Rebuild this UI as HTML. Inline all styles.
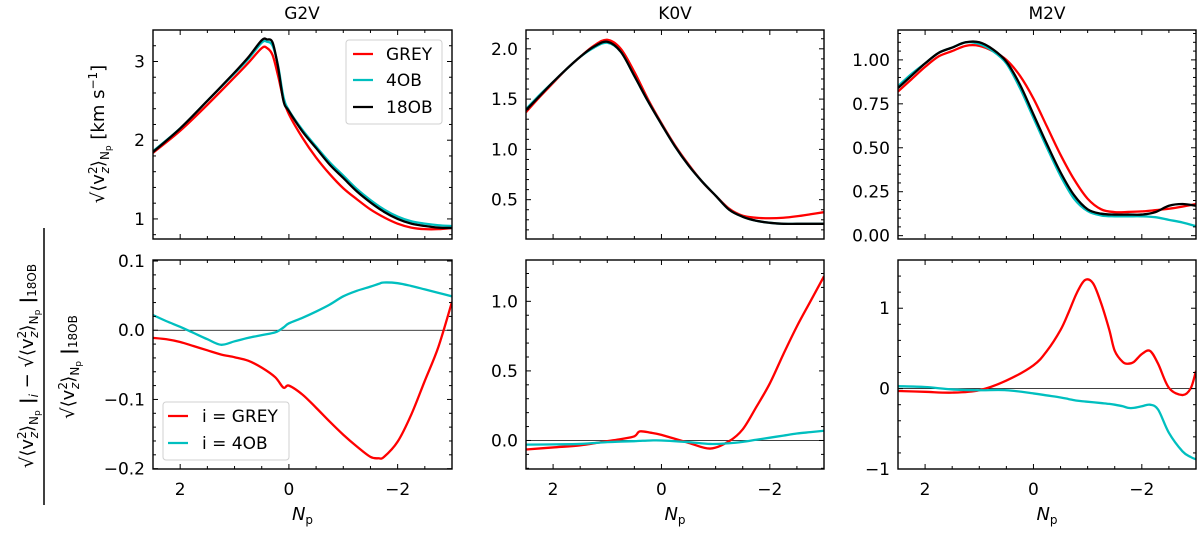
<!DOCTYPE html>
<html><head><meta charset="utf-8"><style>
html,body{margin:0;padding:0;background:#fff}
svg text{font-family:"DejaVu Sans","Liberation Sans",sans-serif;fill:#000}
</style></head><body>
<svg id="fig" width="1200" height="528" viewBox="0 0 1200 528">
<g id="labels">
<text x="302" y="19" font-size="17" text-anchor="middle">G2V</text>
<text x="675" y="19" font-size="17" text-anchor="middle">K0V</text>
<text x="1047" y="19" font-size="17" text-anchor="middle">M2V</text>
<g transform="translate(104,134) rotate(-90)">
<text x="0" y="0" font-size="18" text-anchor="middle">√⟨v<tspan font-size="12" dy="-7">2</tspan><tspan font-size="12" dx="-7" dy="12" font-style="italic">z</tspan><tspan dy="-5">⟩</tspan><tspan font-size="12" dy="5">N</tspan><tspan font-size="9" dy="2">p</tspan><tspan dy="-7"> [km s</tspan><tspan font-size="12" dy="-7">−1</tspan><tspan dy="7">]</tspan></text>
</g>
<g transform="translate(33,366) rotate(-90)">
<text x="0" y="0" font-size="18" text-anchor="middle">√⟨v<tspan font-size="12" dy="-7">2</tspan><tspan font-size="12" dx="-7" dy="12" font-style="italic">z</tspan><tspan dy="-5">⟩</tspan><tspan font-size="12" dy="5">N</tspan><tspan font-size="9" dy="2">p</tspan><tspan dy="-7" font-weight="bold"> |</tspan><tspan font-size="12" font-style="italic" dy="5">i</tspan><tspan dy="-5"> − √⟨v</tspan><tspan font-size="12" dy="-7">2</tspan><tspan font-size="12" dx="-7" dy="12" font-style="italic">z</tspan><tspan dy="-5">⟩</tspan><tspan font-size="12" dy="5">N</tspan><tspan font-size="9" dy="2">p</tspan><tspan dy="-7" font-weight="bold"> |</tspan><tspan font-size="12" dy="3">18OB</tspan></text>
</g>
<line x1="44" y1="228" x2="44" y2="505" stroke="#000" stroke-width="1.5"/>
<g transform="translate(74,367) rotate(-90)">
<text x="0" y="0" font-size="18" text-anchor="middle">√⟨v<tspan font-size="12" dy="-7">2</tspan><tspan font-size="12" dx="-7" dy="12" font-style="italic">z</tspan><tspan dy="-5">⟩</tspan><tspan font-size="12" dy="5">N</tspan><tspan font-size="9" dy="2">p</tspan><tspan dy="-7" font-weight="bold"> |</tspan><tspan font-size="12" dy="3">18OB</tspan></text>
</g>
</g>
</svg>
<script>
// ---- data ----
const xTickLabels=["2","0","−2"];
const xTickVals=[2,0,-2];
// G2V top
const g2vTopX=[2.5,2,1.5,1,0.75,0.5,0.4,0.3,0.2,0.1,0,-0.25,-0.5,-0.75,-1,-1.25,-1.5,-1.75,-2,-2.25,-2.5,-2.75,-3];
const g2vTopGrey=[1.84,2.12,2.45,2.8,2.98,3.17,3.17,3.08,2.82,2.52,2.33,2.03,1.78,1.57,1.39,1.25,1.12,1.02,0.94,0.89,0.87,0.87,0.885];
const g2vTop4OB=[1.86,2.15,2.5,2.85,3.03,3.24,3.25,3.2,2.95,2.55,2.38,2.13,1.92,1.72,1.55,1.38,1.24,1.12,1.03,0.97,0.94,0.92,0.91];
const g2vTop18OB=[1.85,2.15,2.5,2.86,3.05,3.27,3.28,3.24,2.93,2.5,2.37,2.11,1.9,1.69,1.52,1.35,1.21,1.09,1.0,0.94,0.91,0.89,0.885];
// K0V top
const k0vTopX=[2.5,2.25,2,1.75,1.5,1.25,1,0.75,0.5,0.25,0,-0.25,-0.5,-0.75,-1,-1.25,-1.5,-1.75,-2,-2.25,-2.5,-2.75,-3];
const k0vTopGrey=[1.37,1.52,1.66,1.8,1.92,2.03,2.09,2.0,1.77,1.5,1.26,1.04,0.85,0.68,0.54,0.41,0.34,0.32,0.315,0.32,0.335,0.355,0.376];
const k0vTop4OB=[1.4,1.54,1.67,1.8,1.92,2.01,2.06,1.97,1.73,1.48,1.25,1.03,0.84,0.68,0.54,0.4,0.33,0.29,0.27,0.26,0.26,0.26,0.26];
const k0vTop18OB=[1.39,1.53,1.67,1.8,1.92,2.02,2.07,1.97,1.73,1.48,1.25,1.03,0.84,0.68,0.54,0.4,0.33,0.29,0.27,0.26,0.26,0.26,0.26];
// M2V top
const m2vTopX=[2.5,2.25,2,1.75,1.5,1.25,1,0.75,0.5,0.25,0,-0.25,-0.5,-0.75,-1,-1.25,-1.5,-1.75,-2,-2.25,-2.5,-2.75,-3];
const m2vTopGrey=[0.82,0.89,0.96,1.02,1.05,1.08,1.08,1.05,1.0,0.91,0.78,0.62,0.46,0.32,0.21,0.15,0.134,0.135,0.138,0.145,0.153,0.165,0.18];
const m2vTop4OB=[0.85,0.92,0.98,1.04,1.07,1.1,1.09,1.05,0.98,0.84,0.67,0.5,0.34,0.21,0.14,0.115,0.11,0.11,0.11,0.105,0.09,0.075,0.054];
const m2vTop18OB=[0.84,0.91,0.98,1.04,1.07,1.1,1.1,1.06,0.99,0.86,0.69,0.52,0.36,0.23,0.15,0.125,0.12,0.12,0.12,0.134,0.17,0.18,0.17];
// G2V bottom
const g2vBotX=[2.5,2.25,2,1.75,1.5,1.25,1,0.75,0.5,0.25,0.1,0,-0.25,-0.5,-0.75,-1,-1.25,-1.5,-1.65,-1.75,-2,-2.25,-2.5,-2.75,-3];
const g2vBotGrey=[-0.011,-0.013,-0.017,-0.023,-0.029,-0.035,-0.039,-0.044,-0.054,-0.068,-0.083,-0.08,-0.093,-0.112,-0.132,-0.151,-0.168,-0.183,-0.185,-0.183,-0.161,-0.122,-0.073,-0.024,0.041];
const g2vBot4OB=[0.022,0.013,0.005,-0.004,-0.013,-0.021,-0.016,-0.011,-0.007,-0.003,0.004,0.01,0.018,0.027,0.037,0.049,0.057,0.063,0.067,0.069,0.068,0.064,0.059,0.054,0.049];
// K0V bottom
const k0vBotX=[2.5,2,1.5,1,0.75,0.5,0.4,0.2,0,-0.5,-0.9,-1.25,-1.5,-1.75,-2,-2.25,-2.5,-2.75,-3];
const k0vBotGrey=[-0.065,-0.05,-0.035,-0.005,0.01,0.03,0.065,0.056,0.04,-0.017,-0.058,-0.005,0.08,0.24,0.41,0.62,0.82,1.0,1.18];
const k0vBot4OB=[-0.03,-0.028,-0.025,-0.012,-0.008,-0.005,-0.003,0,0,-0.012,-0.025,-0.02,-0.01,0.005,0.02,0.035,0.05,0.06,0.07];
// M2V bottom
const m2vBotX=[2.5,2,1.5,1,0.5,0,-0.25,-0.5,-0.65,-0.8,-0.95,-1.1,-1.25,-1.4,-1.5,-1.65,-1.75,-1.85,-2,-2.15,-2.3,-2.5,-2.75,-2.9,-3];
const m2vBotGrey=[-0.03,-0.04,-0.05,-0.02,0.1,0.29,0.47,0.73,0.95,1.19,1.35,1.31,1.06,0.73,0.47,0.33,0.31,0.33,0.43,0.47,0.31,0.01,-0.08,0.0,0.22];
const m2vBot4OB=[0.03,0.02,-0.01,-0.02,-0.02,-0.06,-0.085,-0.11,-0.13,-0.15,-0.16,-0.17,-0.18,-0.19,-0.2,-0.22,-0.24,-0.24,-0.22,-0.2,-0.26,-0.55,-0.78,-0.85,-0.88];

const RED="#ff0000", CYAN="#00bfbf", BLACK="#000000";
const NS="http://www.w3.org/2000/svg";
const svg=document.getElementById('fig');
function mk(tag,attrs,parent){const e=document.createElementNS(NS,tag);for(const k in attrs)e.setAttribute(k,attrs[k]);(parent||svg).appendChild(e);return e;}
function smoothPath(pts){
  let d="M"+pts[0][0].toFixed(2)+","+pts[0][1].toFixed(2);
  for(let i=0;i<pts.length-1;i++){
    const p0=pts[Math.max(0,i-1)],p1=pts[i],p2=pts[i+1],p3=pts[Math.min(pts.length-1,i+2)];
    const c1=[p1[0]+(p2[0]-p0[0])/6,p1[1]+(p2[1]-p0[1])/6];
    const c2=[p2[0]-(p3[0]-p1[0])/6,p2[1]-(p3[1]-p1[1])/6];
    d+="C"+c1[0].toFixed(2)+","+c1[1].toFixed(2)+" "+c2[0].toFixed(2)+","+c2[1].toFixed(2)+" "+p2[0].toFixed(2)+","+p2[1].toFixed(2);
  }
  return d;
}
function panel(opt){
  const g=mk('g',{});
  
  
  const x0=opt.L,x1=opt.R,y0=opt.T,y1=opt.B;
  const sx=v=>x0+(2.5-v)/(5.5)*(x1-x0);
  const sy=v=>y1-(v-opt.ymin)/(opt.ymax-opt.ymin)*(y1-y0);
  const clipId='clip-'+opt.name;
  const cp=mk('clipPath',{id:clipId},g);mk('rect',{x:x0,y:y0,width:x1-x0,height:y1-y0},cp);
  if(opt.zero){const zl=mk('line',{x1:x0,x2:x1,y1:sy(0),y2:sy(0),stroke:'#000','stroke-width':0.8},g);
    
    }
  const cg=mk('g',{'clip-path':'url(#'+clipId+')'},g);
  opt.series.forEach(s=>{
    const pts=opt.xs.map((x,i)=>[sx(x),sy(s.y[i])]);
    const p=mk('path',{d:smoothPath(pts),fill:'none',stroke:s.c,'stroke-width':2.3,'stroke-linejoin':'round'},cg);
    
    
  });
  const fr=mk('rect',{x:x0,y:y0,width:x1-x0,height:y1-y0,fill:'none',stroke:'#000','stroke-width':1.4},g);
  
  
  for(let v=2.5;v>=-3.001;v-=0.5){
    const X=sx(v);const major=Math.abs(v-Math.round(v/2)*2)<1e-6;const L=major?5:3;
    mk('line',{x1:X,x2:X,y1:y1,y2:y1-L,stroke:'#000','stroke-width':1},g);
    mk('line',{x1:X,x2:X,y1:y0,y2:y0+L,stroke:'#000','stroke-width':1},g);
  }
  if(opt.xlabels){xTickVals.forEach((v,i)=>{const t=mk('text',{x:sx(v),y:y1+26,'font-size':17,'text-anchor':'middle'},g);t.textContent=xTickLabels[i];
    
    });
    const xl=mk('text',{x:(x0+x1)/2,y:y1+51,'font-size':18,'text-anchor':'middle','font-style':'italic'},g);
    xl.innerHTML='N<tspan font-size="12" font-style="normal" dy="4">p</tspan>';
    
    }
  const n=Math.round((opt.ymax-opt.ymin)/opt.minor)+2;
  const start=Math.ceil(opt.ymin/opt.minor-1e-6)*opt.minor;
  for(let k=0;k<n;k++){const v=start+k*opt.minor;if(v>opt.ymax+1e-9)break;
    const Y=sy(v);const major=Math.abs(v/opt.major-Math.round(v/opt.major))<1e-6;const L=major?5:3;
    mk('line',{x1:x0,x2:x0+L,y1:Y,y2:Y,stroke:'#000','stroke-width':1},g);
    mk('line',{x1:x1,x2:x1-L,y1:Y,y2:Y,stroke:'#000','stroke-width':1},g);
  }
  opt.yt.forEach((v,i)=>{const t=mk('text',{x:x0-8,y:sy(v)+6,'font-size':17,'text-anchor':'end'},g);t.textContent=opt.ytl[i];
    
    });
  return g;
}
const cols=[[153,452],[526,824],[898,1196]];
const TOP=[30,239],BOT=[260,469];
panel({name:'g2v-top-panel',L:cols[0][0],R:cols[0][1],T:TOP[0],B:TOP[1],ymin:0.745,ymax:3.40,major:1,minor:0.2,yt:[1,2,3],ytl:["1","2","3"],xs:g2vTopX,
 series:[{n:'g2v-grey-line',c:RED,y:g2vTopGrey},{n:'g2v-4ob-line',c:CYAN,y:g2vTop4OB},{n:'g2v-18ob-line',c:BLACK,y:g2vTop18OB}]});
panel({name:'k0v-top-panel',L:cols[1][0],R:cols[1][1],T:TOP[0],B:TOP[1],ymin:0.109,ymax:2.187,major:0.5,minor:0.1,yt:[0.5,1,1.5,2],ytl:["0.5","1.0","1.5","2.0"],xs:k0vTopX,
 series:[{n:'k0v-grey-line',c:RED,y:k0vTopGrey},{n:'k0v-4ob-line',c:CYAN,y:k0vTop4OB},{n:'k0v-18ob-line',c:BLACK,y:k0vTop18OB}]});
panel({name:'m2v-top-panel',L:cols[2][0],R:cols[2][1],T:TOP[0],B:TOP[1],ymin:-0.019,ymax:1.17,major:0.25,minor:0.05,yt:[0,0.25,0.5,0.75,1],ytl:["0.00","0.25","0.50","0.75","1.00"],xs:m2vTopX,
 series:[{n:'m2v-grey-line',c:RED,y:m2vTopGrey},{n:'m2v-4ob-line',c:CYAN,y:m2vTop4OB},{n:'m2v-18ob-line',c:BLACK,y:m2vTop18OB}]});
panel({name:'g2v-bottom-panel',L:cols[0][0],R:cols[0][1],T:BOT[0],B:BOT[1],ymin:-0.2005,ymax:0.1015,major:0.1,minor:0.02,yt:[-0.2,-0.1,0,0.1],ytl:["−0.2","−0.1","0.0","0.1"],xs:g2vBotX,zero:true,xlabels:true,
 series:[{n:'g2v-grey-diff-line',c:RED,y:g2vBotGrey},{n:'g2v-4ob-diff-line',c:CYAN,y:g2vBot4OB}]});
panel({name:'k0v-bottom-panel',L:cols[1][0],R:cols[1][1],T:BOT[0],B:BOT[1],ymin:-0.205,ymax:1.297,major:0.5,minor:0.1,yt:[0,0.5,1],ytl:["0.0","0.5","1.0"],xs:k0vBotX,zero:true,xlabels:true,
 series:[{n:'k0v-grey-diff-line',c:RED,y:k0vBotGrey},{n:'k0v-4ob-diff-line',c:CYAN,y:k0vBot4OB}]});
panel({name:'m2v-bottom-panel',L:cols[2][0],R:cols[2][1],T:BOT[0],B:BOT[1],ymin:-1.0,ymax:1.6,major:1,minor:0.2,yt:[-1,0,1],ytl:["−1","0","1"],xs:m2vBotX,zero:true,xlabels:true,
 series:[{n:'m2v-grey-diff-line',c:RED,y:m2vBotGrey},{n:'m2v-4ob-diff-line',c:CYAN,y:m2vBot4OB}]});

function legend(name,x,y,w,h,entries,lx,tx,rowY){
  const g=mk('g',{});
  
  
  mk('rect',{x:x,y:y,width:w,height:h,rx:3,fill:'#fff','fill-opacity':0.85,stroke:'#d0d0d0','stroke-width':1},g);
  entries.forEach((e,i)=>{
    const Y=rowY[i];
    const ln=mk('line',{x1:lx,x2:lx+20,y1:Y,y2:Y,stroke:e.c,'stroke-width':2.3},g);
    
    
    const t=mk('text',{x:tx,y:Y+6,'font-size':17},g);t.textContent=e.t;
    
    
  });
}
legend('top-legend',346,40,96,84,[{c:RED,t:'GREY'},{c:CYAN,t:'4OB'},{c:BLACK,t:'18OB'}],353,386,[54,80,107]);
legend('bottom-legend',163,402,126,58,[{c:RED,t:'i = GREY'},{c:CYAN,t:'i = 4OB'}],168,202,[416,443]);
</script>
</body></html>
